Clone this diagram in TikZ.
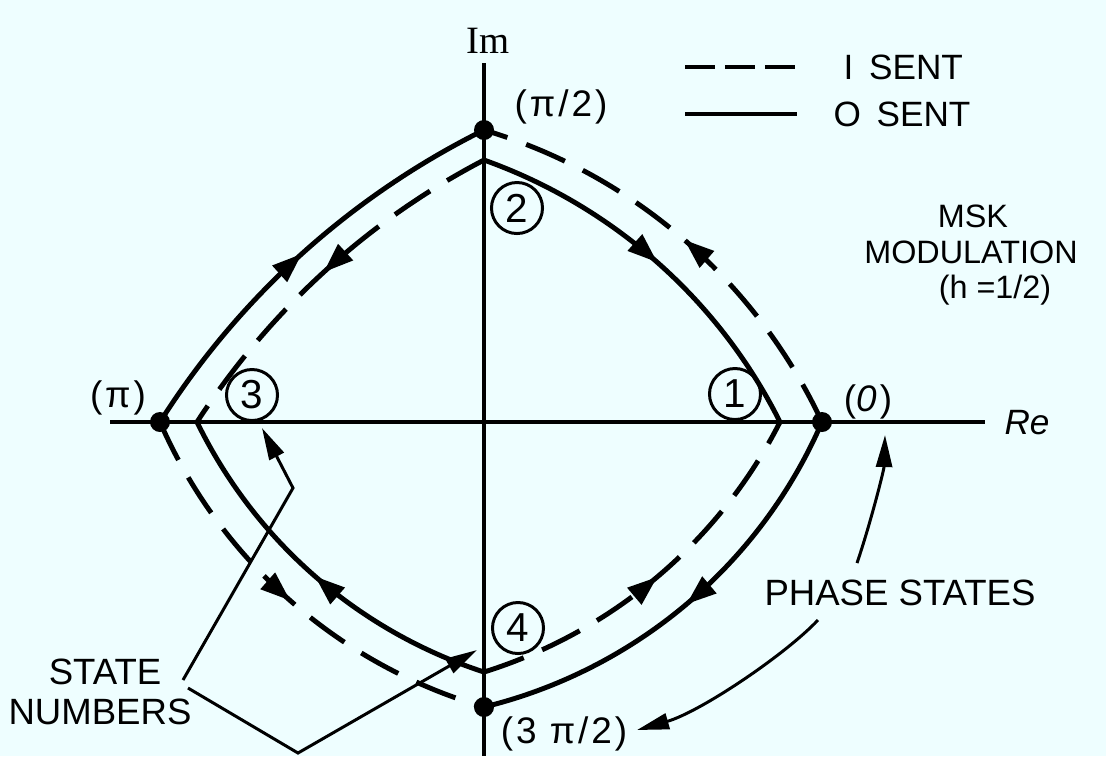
\documentclass[tikz,border=0pt]{standalone}
\usepackage{fontspec}
\setmainfont{Liberation Sans}
\newfontfamily\serifface{Liberation Serif}
\usetikzlibrary{arrows.meta,decorations.markings}
\definecolor{bgcol}{RGB}{238,254,255}
\begin{document}
\begin{tikzpicture}[x=0.01cm,y=-0.01cm,
  curve/.style={line width=1.4pt},
  dashcurve/.style={line width=1.4pt, dash pattern=on 12pt off 5.7pt},
  midarrow/.style={postaction={decorate}, decoration={markings,
      mark=at position 0.5 with {\arrow[solid]{Triangle[length=3mm,width=2.1mm]}}}},
  dot/.style={circle, fill=black, inner sep=0pt, minimum size=2mm},
  axis/.style={line width=1.1pt},
  legendline/.style={line width=1.3pt},
  pointer/.style={line width=0.85pt, line join=miter, -{Triangle[length=3.2mm,width=1.6mm]}},
  statenum/.style={circle, draw, line width=0.85pt, minimum size=5.1mm, inner sep=0pt,
      font=\fontsize{11.5}{12}\selectfont},
  biglbl/.style={inner sep=0pt, font=\fontsize{10.4}{12}\selectfont},
  leglbl/.style={inner sep=0pt, anchor=west, font=\fontsize{10}{12}\selectfont},
  msklbl/.style={inner sep=0pt, font=\fontsize{9.2}{12}\selectfont},
  phaselbl/.style={inner sep=0pt, font=\fontsize{10.5}{12}\selectfont\addfontfeature{LetterSpace=8}},
]
\useasboundingbox (0,0) rectangle (1106,756);
\fill[bgcol] (0,0) rectangle (1106,756);

% axes
\coordinate (xl) at (110,422);
\coordinate (xr) at (985,422);
\coordinate (yt) at (484,63);
\coordinate (yb) at (484,756);
\draw[axis] (xl) -- (xr);
\draw[axis] (yt) -- (yb);

% phase state positions (outer) and inner corners
\coordinate (p0) at (822,422);
\coordinate (p1) at (484,130);
\coordinate (p2) at (160,422);
\coordinate (p3) at (484,707);
\coordinate (i0) at (780,422);
\coordinate (i1) at (484,160);
\coordinate (i2) at (197,422);
\coordinate (i3) at (484,672);

% outer trajectories
\draw[dashcurve, midarrow] (p0) .. controls +(-66,-141) and +(149,44) .. (p1);
\draw[curve, midarrow] (p2) .. controls +(79,-125) and +(-133,66) .. (p1);
\draw[dashcurve, midarrow] (p2) .. controls +(60,138) and +(-145,-42) .. (p3);
\draw[curve, midarrow] (p0) .. controls +(-62,143) and +(151,-37) .. (p3);
% inner trajectories
\draw[curve, midarrow] (i1) .. controls +(129,46) and +(-61,-122) .. (i0);
\draw[dashcurve, midarrow] (i1) .. controls +(-117,61) and +(72,-111) .. (i2);
\draw[curve, midarrow] (i3) .. controls +(-126,-41) and +(58,119) .. (i2);
\draw[dashcurve, midarrow] (i3) .. controls +(128,-40) and +(-61,120) .. (i0);

% dots
\node[dot] (d0) at (p0) {};
\node[dot] (d1) at (p1) {};
\node[dot] (d2) at (p2) {};
\node[dot] (d3) at (p3) {};

% axis labels
\node[inner sep=0pt, font=\serifface\fontsize{11}{12}\selectfont] (im) at (488,41) {Im};
\node[inner sep=0pt, font=\fontsize{10}{12}\selectfont\itshape] (re) at (1027,423) {Re};

% phase labels
\node[phaselbl] (lpihalf) at (561,107) {(π/2)};
\node[phaselbl] (lpi) at (118,398) {(π)};
\node[phaselbl] (lzero) at (868,402) {(\textit{0})};
\node[phaselbl] (l3pihalf) at (564,734) {(3 π/2)};

% state numbers
\node[statenum] (s1) at (735,394) {1};
\node[statenum] (s2) at (517,208) {2};
\node[statenum] (s3) at (252,395) {3};
\node[statenum] (s4) at (518,628) {4};

% legend
\coordinate (la1) at (685,67);
\coordinate (la2) at (795,67);
\coordinate (lb1) at (685,114);
\coordinate (lb2) at (797,114);
\draw[legendline, dash pattern=on 8.5pt off 2.85pt] (la1) -- (la2);
\draw[legendline] (lb1) -- (lb2);
\node[leglbl] (one) at (843,67) {I\ \,SENT};
\node[leglbl] (zero) at (833,114) {O\ \,SENT};

% MSK caption
\node[msklbl] (msk) at (973,216) {MSK};
\node[msklbl] (modu) at (971,252) {MODULATION};
\node[msklbl] (hval) at (995,290) {(h =1/2)};

% other labels
\node[biglbl] (phs) at (900,593) {PHASE STATES};
\node[biglbl] (stt) at (105,672) {STATE};
\node[biglbl] (nmb) at (100,712) {NUMBERS};

% pointers
\coordinate (sa) at (183,680);
\coordinate (sak) at (293,488);
\coordinate (sat) at (262,428);
\coordinate (sb) at (188,688);
\coordinate (sbk) at (298,753);
\coordinate (sbt) at (477,650);
\draw[pointer] (sa) -- (sak) -- (sat);
\draw[pointer] (sb) -- (sbk) -- (sbt);

\coordinate (pa) at (857,563);
\coordinate (pat) at (885,435);
\coordinate (pb) at (818,620);
\coordinate (pbt) at (637,730);
\draw[pointer] (pa) .. controls (870,525) and (884,470) .. (pat);
\draw[pointer] (pb) .. controls (785,655) and (700,712) .. (pbt);
\end{tikzpicture}
\end{document}
